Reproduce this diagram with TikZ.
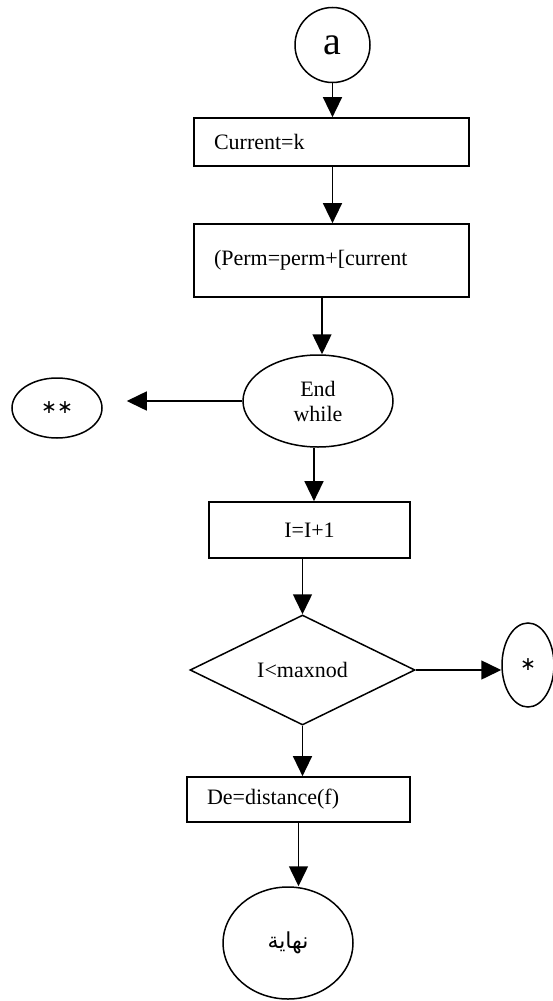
\documentclass[tikz,border=0pt]{standalone}
\usepackage{fontspec}
\setmainfont{Liberation Serif}
\newfontfamily\arabicfont[Script=Arabic]{DejaVu Sans}
\newfontfamily\symfont{DejaVu Sans}
\TeXXeTstate=1
\usetikzlibrary{shapes.geometric,arrows.meta}

\begin{document}
\begin{tikzpicture}[x=1pt,y=-1pt,
  every node/.style={font=\fontsize{22}{25}\selectfont, inner sep=0pt},
  arr/.style={line width=1.5pt, -{Triangle[length=20pt,width=19pt]}},
  procbox/.style={draw, line width=1.7pt, align=left, inner xsep=20pt},
  oval/.style={draw, ellipse, line width=1.5pt, align=center},
  decision/.style={draw, diamond, line width=1.5pt, align=center},
  ]
\useasboundingbox (0,0) rectangle (552,1001);

% start connector
\node[draw, circle, minimum size=75pt, line width=1.5pt,
      font=\fontsize{40}{40}\selectfont] (a) at (332.5,45) {a};

% process steps
\node[procbox, minimum width=275pt, minimum height=48pt, text width=235pt]
  (b1) at (331.5,142) {Current=k};
\node[procbox, minimum width=275pt, minimum height=73pt, text width=235pt]
  (b2) at (331.5,260.5) {\raisebox{-8pt}{(Perm=perm+[current}};

% loop end and its exit
\node[oval, minimum width=150pt, minimum height=92pt] (ew) at (318,401) {End\\while};
\node[oval, minimum width=90pt, minimum height=60pt] (ss) at (57,408)
  {\symfont\fontsize{19}{19}\selectfont ∗∗};

\node[procbox, minimum width=201pt, minimum height=56pt, text width=161pt, align=center]
  (b3) at (309.5,530) {I=I+1};

% test
\node[decision, minimum width=225pt, minimum height=110pt] (dia) at (302.5,670) {I<maxnod};
\node[oval, minimum width=52pt, minimum height=84pt] (st) at (528,665)
  {\symfont\fontsize{19}{19}\selectfont ∗};

\node[procbox, minimum width=223pt, minimum height=45pt, text width=183pt]
  (b4) at (298.5,799.5) {De=distance(f)};

% terminal
\node[oval, minimum width=130pt, minimum height=112pt] (en) at (288,943)
  {\arabicfont\fontsize{22}{22}\selectfont\beginR نهاية\endR};

% connectors
\draw[arr] (a.south) -- (a.south |- b1.north);
\draw[arr] (a.south |- b1.south) -- (a.south |- b2.north);
\draw[arr] ([xshift=4pt]ew.north |- b2.south) -- ([xshift=4pt]ew.north);
\draw[arr, shorten >=24pt] (ew.west) -- (ew.west -| ss.east);
\draw[arr] ([xshift=-4pt]ew.south) -- ([xshift=-4pt]ew.south |- b3.north);
\draw[arr] (dia.north |- b3.south) -- (dia.north);
\draw[arr] (dia.east) -- (dia.east -| st.west);
\draw[arr] (dia.south) -- (dia.south |- b4.north);
\draw[arr] (b4.south) -- (b4.south |- en.north);
\end{tikzpicture}
\end{document}
